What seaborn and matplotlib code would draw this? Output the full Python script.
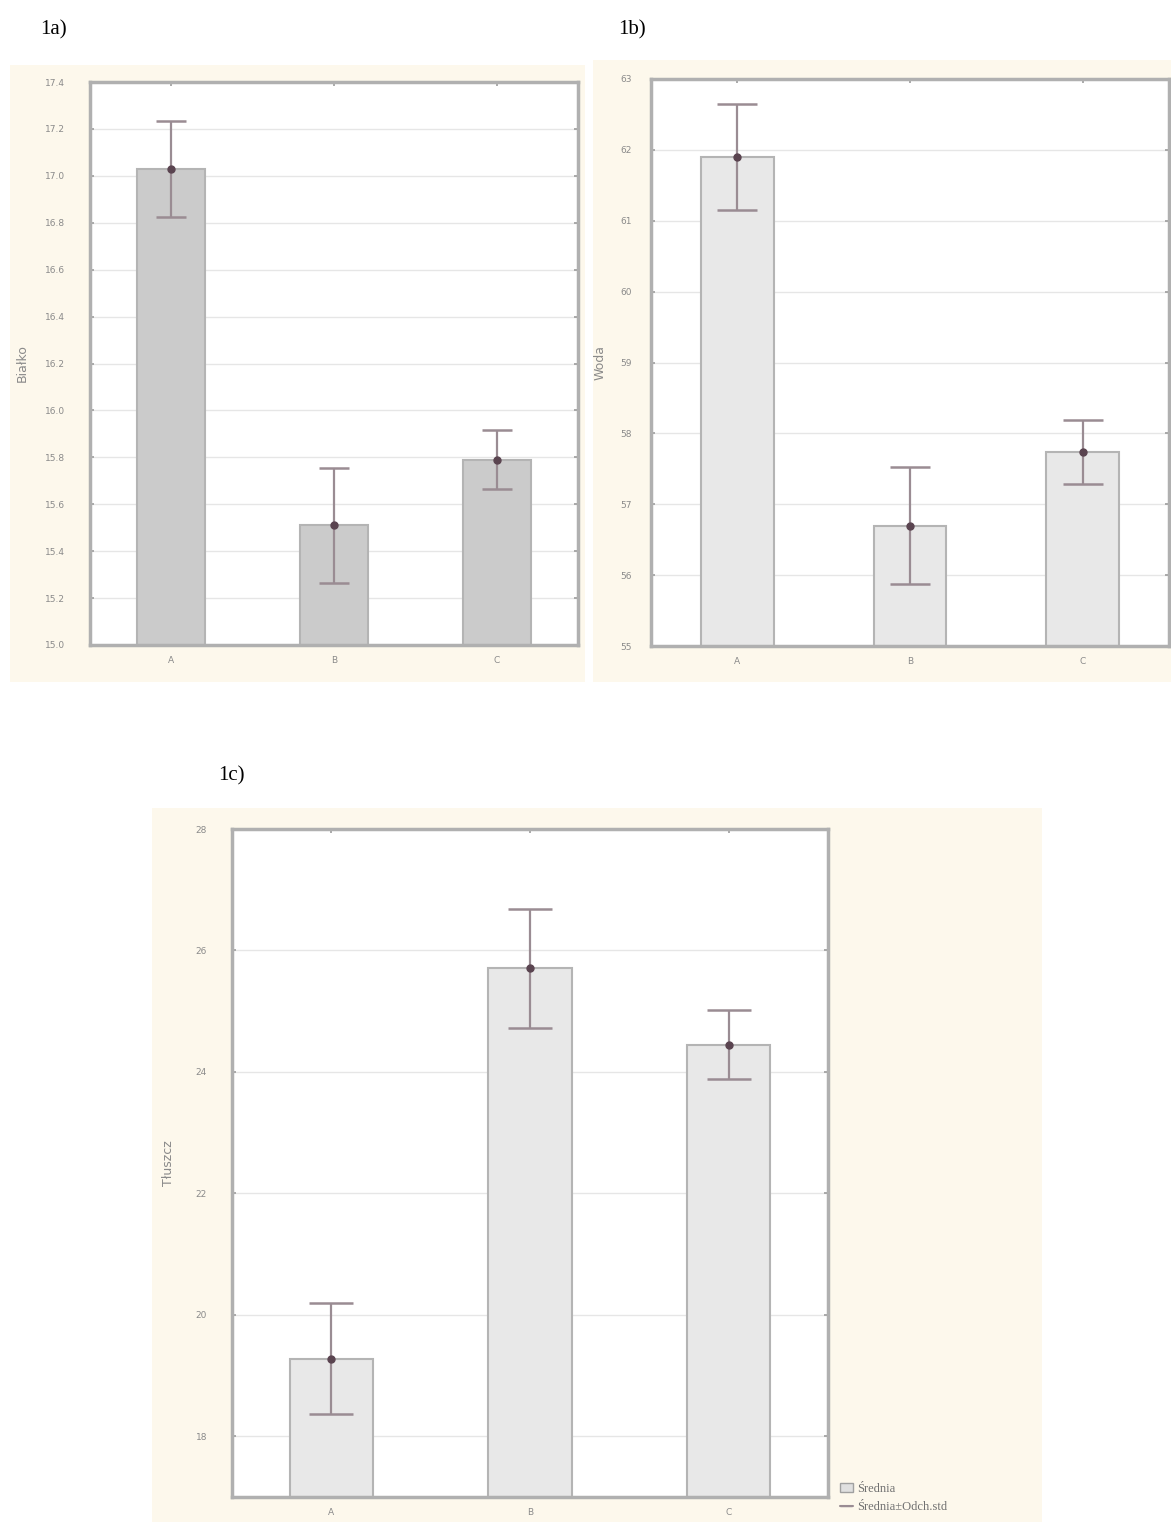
import numpy as np
import pandas as pd
import matplotlib
matplotlib.use("Agg")
import matplotlib.pyplot as plt
import seaborn as sns
from matplotlib.patches import Rectangle
from matplotlib.lines import Line2D

sns.set_theme(style="white")
plt.rcParams['font.family'] = ['DejaVu Sans']

categories = ["A", "B", "C"]

# 1a
mean_a = [17.03, 15.51, 15.79]
sd_a = [0.205, 0.245, 0.126]
ticks_a = [15.0, 15.2, 15.4, 15.6, 15.8, 16.0, 16.2, 16.4, 16.6, 16.8, 17.0, 17.2, 17.4]
ylabel_a = "Białko"

# 1b
mean_b = [61.90, 56.70, 57.74]
sd_b = [0.75, 0.83, 0.45]
ticks_b = [55, 56, 57, 58, 59, 60, 61, 62, 63]
ylabel_b = "Woda"

# 1c
mean_c = [19.28, 25.71, 24.45]
sd_c = [0.92, 0.98, 0.57]
ticks_c = [18, 20, 22, 24, 26, 28]
ylim_c = (17.0, 28.0)
ylabel_c = "Tłuszcz"

legend_labels = ["Średnia", "Średnia±Odch.std"]
titles = ["1a)", "1b)", "1c)"]

W, H = 1171, 1524
fig = plt.figure(figsize=(W / 100, H / 100), dpi=100)
fig.patch.set_facecolor("white")

def px_rect(x0, y0, x1, y1):
    return [x0 / W, 1 - y1 / H, (x1 - x0) / W, (y1 - y0) / H]

cream = "#fdf8ec"
for (x0, y0, x1, y1) in [(10, 65, 585, 682), (593, 60, 1171, 682), (152, 808, 1042, 1522)]:
    r = px_rect(x0, y0, x1, y1)
    fig.patches.append(Rectangle((r[0], r[1]), r[2], r[3], transform=fig.transFigure,
                                 facecolor=cream, edgecolor="none", zorder=-10))

def panel(rect, means, sds, ticks, ylim, ylabel, barcolor, capsize, fmt, ypad):
    ax = fig.add_axes(px_rect(*rect))
    ax.set_zorder(2)
    ax.set_facecolor("white")
    df = pd.DataFrame({"cat": categories, "val": means})
    sns.barplot(data=df, x="cat", y="val", ax=ax, color=barcolor, width=0.42,
                edgecolor="#b4b4b4", linewidth=1.5, errorbar=None, saturation=1, zorder=2)
    ax.errorbar(np.arange(len(means)), means, yerr=sds, fmt="none", ecolor="#9a8c93",
                elinewidth=1.6, capsize=capsize, capthick=1.8, zorder=3)
    ax.plot(np.arange(len(means)), means, "o", color="#5a4450", markersize=5, zorder=4)
    ax.set_xlim(-0.5, 2.5)
    ax.set_ylim(*ylim)
    ax.set_yticks(ticks)
    ax.set_yticklabels([fmt.format(t) for t in ticks])
    ax.yaxis.grid(True, color="#e6e6e6", linewidth=1.0, zorder=0)
    ax.set_axisbelow(True)
    ax.set_xlabel("")
    ax.set_ylabel(ylabel, fontsize=9, color="#8a8a8a")
    ax.tick_params(axis="both", which="both", labelsize=6.5, labelcolor="#8a8a8a",
                   color="#a0a0a0", direction="in", length=3, top=True, right=True, left=True, bottom=True)
    ax.tick_params(axis="y", pad=ypad)
    ax.tick_params(axis="x", pad=8)
    for s in ax.spines.values():
        s.set_color("#b0b0b0")
        s.set_linewidth(2.5)
        s.set_visible(True)
    return ax

ax1 = panel((90, 82, 578, 645), mean_a, sd_a, ticks_a, (15.0, 17.4), ylabel_a, "#cbcbcb", 10.8, "{:.1f}", 18)
ax1.yaxis.set_label_coords(-0.125, 0.5)
ax2 = panel((651, 79, 1169, 646), mean_b, sd_b, ticks_b, (55, 63), ylabel_b, "#e8e8e8", 14.4, "{:d}", 14)
ax2.yaxis.set_label_coords(-0.085, 0.5)
ax3 = panel((232, 829, 828, 1497), mean_c, sd_c, ticks_c, ylim_c, ylabel_c, "#e8e8e8", 16.0, "{:d}", 18)
ax3.yaxis.set_label_coords(-0.095, 0.5)

fig.text(40 / W, 1 - 30 / H, titles[0], fontsize=15, family="Liberation Serif", va="center", ha="left", color="black")
fig.text(618 / W, 1 - 30 / H, titles[1], fontsize=15, family="Liberation Serif", va="center", ha="left", color="black")
fig.text(218 / W, 1 - 776 / H, titles[2], fontsize=15, family="Liberation Serif", va="center", ha="left", color="black")

handles = [
    Rectangle((0, 0), 1, 1, facecolor="#e0e0e0", edgecolor="#a0a0a0"),
    Line2D([0], [0], color="#9a8c93", marker="_", markersize=8, linewidth=1.5),
]
leg = fig.legend(handles, legend_labels, loc="lower left", bbox_to_anchor=(835 / W, 1 - 1518 / H),
                 frameon=False, fontsize=8.5, labelcolor="#707070", handlelength=1.0, handletextpad=0.4,
                 borderaxespad=0, labelspacing=0.5, prop={"family": "Liberation Serif", "size": 9})
leg.set_zorder(5)

fig.savefig("out.png", dpi=100)
